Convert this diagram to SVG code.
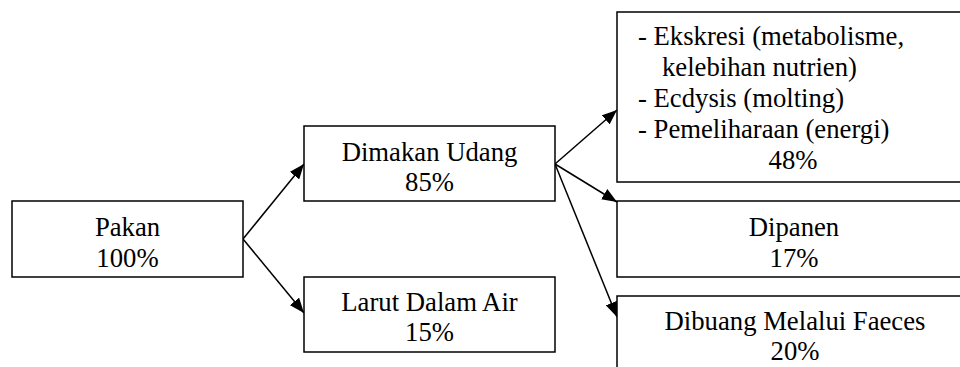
<svg xmlns="http://www.w3.org/2000/svg" width="960" height="367" viewBox="0 0 960 367" font-family="'Liberation Serif', 'DejaVu Serif', serif" font-size="26.7">
<style>
.box{fill:#fff;stroke:#000;stroke-width:1.5}
text{fill:#000}
.c{text-anchor:middle}
.edge{stroke:#000;stroke-width:1.5;fill:none;marker-end:url(#ah)}
</style>
<defs>
<marker id="ah" markerUnits="userSpaceOnUse" markerWidth="16" markerHeight="12" refX="15" refY="6" orient="auto">
<path d="M0,0 L15,6 L0,12 Z" fill="#000"/>
</marker>
</defs>
<rect width="960" height="367" fill="#fff"/>
<g id="connectors">
<line class="edge" x1="243" y1="239" x2="304" y2="164"/>
<line class="edge" x1="243" y1="239" x2="304" y2="313"/>
<line class="edge" x1="555" y1="164" x2="617" y2="110"/>
<line class="edge" x1="555" y1="164" x2="617" y2="202"/>
<line class="edge" x1="555" y1="164" x2="617" y2="317"/>
</g>
<g id="pakan">
<rect class="box" x="12" y="201" width="231" height="76"/>
<text class="c" x="127.5" y="236">Pakan</text>
<text class="c" x="127.5" y="267">100%</text>
</g>
<g id="dimakan">
<rect class="box" x="304" y="126" width="251" height="75"/>
<text class="c" x="429.5" y="161">Dimakan Udang</text>
<text class="c" x="429.5" y="191">85%</text>
</g>
<g id="larut">
<rect class="box" x="304" y="277" width="251" height="75"/>
<text class="c" x="429.5" y="311">Larut Dalam Air</text>
<text class="c" x="429.5" y="341">15%</text>
</g>
<g id="ekskresi">
<rect class="box" x="617" y="12" width="360" height="170"/>
<text x="638" y="45">- Ekskresi (metabolisme,</text>
<text x="662" y="76">kelebihan nutrien)</text>
<text x="638" y="107">- Ecdysis (molting)</text>
<text x="638" y="138">- Pemeliharaan (energi)</text>
<text class="c" x="793" y="169">48%</text>
</g>
<g id="dipanen">
<rect class="box" x="617" y="201" width="360" height="76"/>
<text class="c" x="794" y="236">Dipanen</text>
<text class="c" x="794" y="267">17%</text>
</g>
<g id="faeces">
<rect class="box" x="617" y="296" width="360" height="90"/>
<text class="c" x="795" y="330">Dibuang Melalui Faeces</text>
<text class="c" x="795" y="360">20%</text>
</g>
</svg>
